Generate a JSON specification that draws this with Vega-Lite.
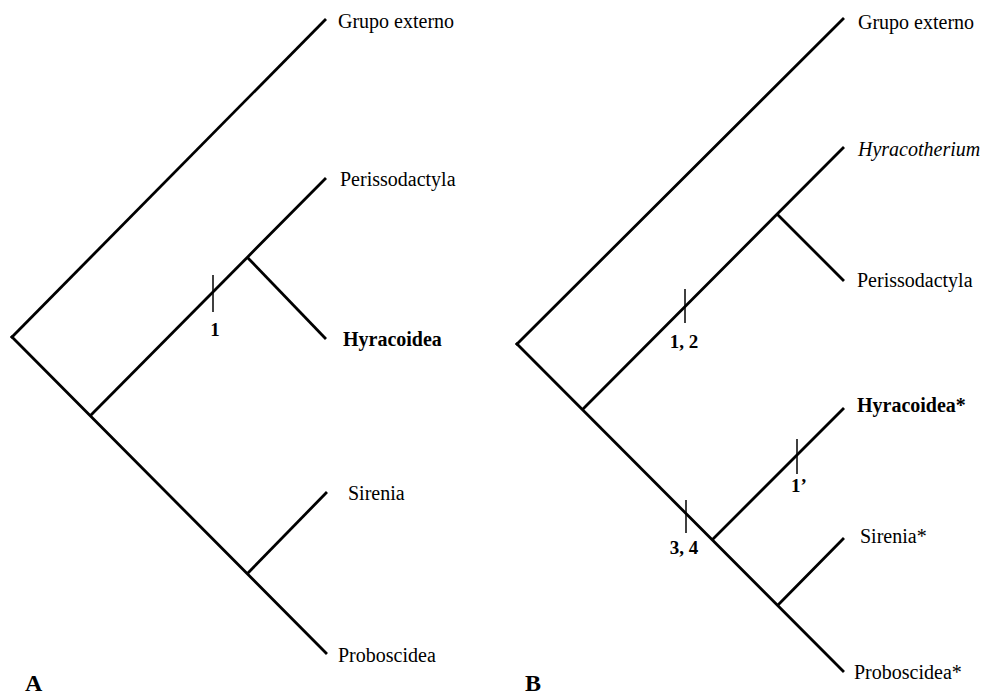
{
  "$schema": "https://vega.github.io/schema/vega-lite/v6.json",
  "width": 989,
  "height": 697,
  "padding": 0,
  "autosize": {"type": "none"},
  "background": "white",
  "config": {"view": {"stroke": null}},
  "datasets": {
    "branches": [
      {"panel": "A", "x": 12, "y": 337, "x2": 325, "y2": 20},
      {"panel": "A", "x": 12, "y": 337, "x2": 326, "y2": 653},
      {"panel": "A", "x": 91, "y": 415, "x2": 325, "y2": 179},
      {"panel": "A", "x": 248, "y": 258, "x2": 325, "y2": 338},
      {"panel": "A", "x": 248, "y": 573, "x2": 326, "y2": 493},
      {"panel": "B", "x": 517, "y": 344, "x2": 843, "y2": 19},
      {"panel": "B", "x": 517, "y": 344, "x2": 843, "y2": 671},
      {"panel": "B", "x": 583, "y": 409, "x2": 843, "y2": 148},
      {"panel": "B", "x": 778, "y": 215, "x2": 843, "y2": 280},
      {"panel": "B", "x": 713, "y": 539, "x2": 843, "y2": 409},
      {"panel": "B", "x": 778, "y": 605, "x2": 843, "y2": 539}
    ],
    "ticks": [
      {"panel": "A", "x": 213, "y": 275, "x2": 213, "y2": 312},
      {"panel": "B", "x": 685, "y": 289, "x2": 685, "y2": 323},
      {"panel": "B", "x": 797, "y": 439, "x2": 797, "y2": 474},
      {"panel": "B", "x": 686, "y": 500, "x2": 686, "y2": 533}
    ],
    "labels": [
      {"text": "Grupo externo", "x": 338, "y": 22, "style": "normal"},
      {"text": "Perissodactyla", "x": 340, "y": 180, "style": "normal"},
      {"text": "Hyracoidea", "x": 343, "y": 340, "style": "bold"},
      {"text": "Sirenia", "x": 348, "y": 494, "style": "normal"},
      {"text": "Proboscidea", "x": 338, "y": 656, "style": "normal"},
      {"text": "Grupo externo", "x": 858, "y": 23, "style": "normal"},
      {"text": "Hyracotherium", "x": 858, "y": 150, "style": "italic"},
      {"text": "Perissodactyla", "x": 857, "y": 281, "style": "normal"},
      {"text": "Hyracoidea*", "x": 857, "y": 406, "style": "bold"},
      {"text": "Sirenia*", "x": 860, "y": 537, "style": "normal"},
      {"text": "Proboscidea*", "x": 854, "y": 673, "style": "normal"}
    ],
    "chars": [
      {"text": "1", "x": 215, "y": 330},
      {"text": "1, 2", "x": 684, "y": 342},
      {"text": "1’", "x": 799, "y": 486},
      {"text": "3, 4", "x": 684, "y": 548}
    ],
    "panels": [
      {"text": "A", "x": 25, "y": 696},
      {"text": "B", "x": 525, "y": 696}
    ]
  },
  "layer": [
    {
      "data": {"name": "branches"},
      "mark": {"type": "rule", "strokeWidth": 2.8, "color": "black", "strokeCap": "square"},
      "encoding": {
        "x": {"field": "x", "type": "quantitative", "scale": {"domain": [0, 989], "nice": false, "zero": false}, "axis": null},
        "y": {"field": "y", "type": "quantitative", "scale": {"domain": [0, 697], "nice": false, "zero": false, "reverse": true}, "axis": null},
        "x2": {"field": "x2"},
        "y2": {"field": "y2"}
      }
    },
    {
      "data": {"name": "ticks"},
      "mark": {"type": "rule", "strokeWidth": 1.5, "color": "black"},
      "encoding": {
        "x": {"field": "x", "type": "quantitative"},
        "y": {"field": "y", "type": "quantitative"},
        "x2": {"field": "x2"},
        "y2": {"field": "y2"}
      }
    },
    {
      "data": {"name": "labels"},
      "transform": [{"filter": "datum.style === 'normal'"}],
      "mark": {"type": "text", "align": "left", "baseline": "middle", "font": "Liberation Serif", "fontSize": 20, "color": "black"},
      "encoding": {
        "x": {"field": "x", "type": "quantitative"},
        "y": {"field": "y", "type": "quantitative"},
        "text": {"field": "text"}
      }
    },
    {
      "data": {"name": "labels"},
      "transform": [{"filter": "datum.style === 'bold'"}],
      "mark": {"type": "text", "align": "left", "baseline": "middle", "font": "Liberation Serif", "fontSize": 20, "fontWeight": "bold", "color": "black"},
      "encoding": {
        "x": {"field": "x", "type": "quantitative"},
        "y": {"field": "y", "type": "quantitative"},
        "text": {"field": "text"}
      }
    },
    {
      "data": {"name": "labels"},
      "transform": [{"filter": "datum.style === 'italic'"}],
      "mark": {"type": "text", "align": "left", "baseline": "middle", "font": "Liberation Serif", "fontSize": 20, "fontStyle": "italic", "color": "black"},
      "encoding": {
        "x": {"field": "x", "type": "quantitative"},
        "y": {"field": "y", "type": "quantitative"},
        "text": {"field": "text"}
      }
    },
    {
      "data": {"name": "chars"},
      "mark": {"type": "text", "align": "center", "baseline": "middle", "font": "Liberation Serif", "fontSize": 19, "fontWeight": "bold", "color": "black"},
      "encoding": {
        "x": {"field": "x", "type": "quantitative"},
        "y": {"field": "y", "type": "quantitative"},
        "text": {"field": "text"}
      }
    },
    {
      "data": {"name": "panels"},
      "mark": {"type": "text", "align": "left", "baseline": "bottom", "font": "Liberation Serif", "fontSize": 24, "fontWeight": "bold", "color": "black"},
      "encoding": {
        "x": {"field": "x", "type": "quantitative"},
        "y": {"field": "y", "type": "quantitative"},
        "text": {"field": "text"}
      }
    }
  ]
}
